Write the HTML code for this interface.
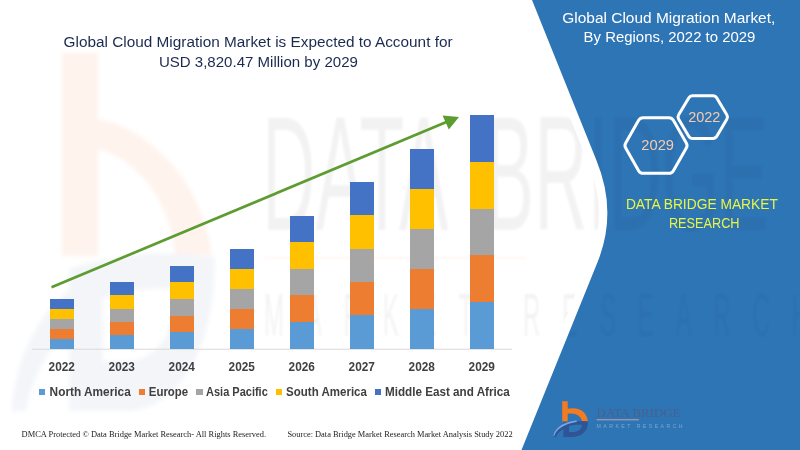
<!DOCTYPE html>
<html>
<head>
<meta charset="utf-8">
<title>Global Cloud Migration Market</title>
<style>
html,body{margin:0;padding:0;background:#fff;}
body{width:800px;height:450px;overflow:hidden;position:relative;font-family:"Liberation Sans",sans-serif;}
svg{position:absolute;left:0;top:0;display:block;}
text{font-family:"Liberation Sans",sans-serif;}
.serif{font-family:"Liberation Serif",serif;}
</style>
</head>
<body>
<svg width="800" height="450" viewBox="0 0 800 450">
  <defs>
    <g id="logo">
      <path d="M0,0 H5.5 V7.6 C16.5,5 25,10.4 25.6,20 H19.8 C18.8,14.4 12.6,11.2 5.5,12.6 V20 H0 Z" fill="#F47B20"/>
      <path d="M1.2,21.6 C10,19.8 20,19.8 25.9,20.4 C26,29.4 20,36 10,35.8 H1.2 Z M6.9,24.6 V30.8 H11.4 C16,30.6 19.2,28 19.8,23.6 C15,23.4 10,23.8 6.9,24.6 Z" fill="#2F5597" fill-rule="evenodd"/>
      <path d="M-8.5,35.8 C-7,28 2,22.6 14,20.6 L25.8,20.4 C16,21.4 10,23.4 6.9,24.9 C0,28 -4.5,31.4 -6.2,35.8 Z" fill="#2F5597"/>
      <path d="M-8.7,34.6 C-7.6,26.4 2,20.6 14,19.3 L15,20.5 C3,22.4 -6.5,28 -8,35 Z" fill="#7AA7E0"/>
    </g>
    <filter id="wb2" x="-10%" y="-10%" width="120%" height="120%"><feGaussianBlur stdDeviation="2"/></filter>
    <clipPath id="pc"><path d="M532,0 L596.3,160 Q617.8,212 597.6,262 L521.5,450 H800 V0 Z"/></clipPath>
    <filter id="tb" x="-5%" y="-5%" width="110%" height="110%"><feGaussianBlur stdDeviation="1.2"/></filter>
  </defs>

  <rect width="800" height="450" fill="#ffffff"/>

  <!-- faint watermark (logo) -->
  <g opacity="0.08" filter="url(#wb2)">
    <path d="M62,53 H98 V120 C130,122 200,165 212,255 H175 C172,205 140,160 98,149 V256 H62 Z" fill="#F56923"/>
    <g transform="translate(62,53) scale(5.9,10)" opacity="0.7">
      <path d="M1.2,21.6 C10,19.8 20,19.8 25.9,20.4 C26,29.4 20,36 10,35.8 H1.2 Z M6.9,24.6 V30.8 H11.4 C16,30.6 19.2,28 19.8,23.6 C15,23.4 10,23.8 6.9,24.6 Z" fill="#2F5597" fill-rule="evenodd"/>
      <path d="M-8.5,35.8 C-7.5,27 2,21.5 14,20 L25.8,20.4 C16,21 10,23 6.9,24.5 C0,27.5 -4.5,31 -6.2,35.8 Z" fill="#2F5597"/>
    </g>
  </g>

  <!-- faint watermark (text) -->
  <g opacity="0.046" filter="url(#tb)">
    <text transform="translate(262,230) scale(1,2.22)" x="0" y="0" font-size="74" fill="#000" word-spacing="20">DATA BRIDGE</text>
    <rect x="264" y="256.5" width="262" height="3" fill="#F47B20"/>
    <text transform="translate(264,336) scale(1,2.57)" x="0" y="0" font-size="24" fill="#000" textLength="545" lengthAdjust="spacing">MARKET RESEARCH</text>
  </g>

  <!-- blue panel -->
  <path d="M532,0 L596.3,160 Q617.8,212 597.6,262 L521.5,450 H800 V0 Z" fill="#ffffff" stroke="#ffffff" stroke-width="17" stroke-linejoin="round"/>
  <path d="M532,0 L596.3,160 Q617.8,212 597.6,262 L521.5,450 H800 V0 Z" fill="#2E75B6"/>
  <g opacity="0.035" filter="url(#tb)" clip-path="url(#pc)">
    <text transform="translate(262,230) scale(1,2.22)" x="0" y="0" font-size="74" fill="#000" word-spacing="20">DATA BRIDGE</text>
    <text transform="translate(264,336) scale(1,2.57)" x="0" y="0" font-size="24" fill="#000" textLength="545" lengthAdjust="spacing">MARKET RESEARCH</text>
  </g>


  <!-- axis line -->
  <rect x="32" y="348.7" width="480" height="1" fill="#D9D9D9"/>

  <!-- bars -->
  <g shape-rendering="crispEdges">
    <rect x="49.9" y="299.30" width="23.8" height="10.10" fill="#4472C4"/>
    <rect x="49.9" y="309.20" width="23.8" height="10.10" fill="#FFC000"/>
    <rect x="49.9" y="319.10" width="23.8" height="10.10" fill="#A5A5A5"/>
    <rect x="49.9" y="329.00" width="23.8" height="10.10" fill="#ED7D31"/>
    <rect x="49.9" y="338.90" width="23.8" height="9.90" fill="#5B9BD5"/>
    <rect x="109.9" y="282.10" width="23.8" height="13.54" fill="#4472C4"/>
    <rect x="109.9" y="295.44" width="23.8" height="13.54" fill="#FFC000"/>
    <rect x="109.9" y="308.78" width="23.8" height="13.54" fill="#A5A5A5"/>
    <rect x="109.9" y="322.12" width="23.8" height="13.54" fill="#ED7D31"/>
    <rect x="109.9" y="335.46" width="23.8" height="13.34" fill="#5B9BD5"/>
    <rect x="169.9" y="265.60" width="23.8" height="16.84" fill="#4472C4"/>
    <rect x="169.9" y="282.24" width="23.8" height="16.84" fill="#FFC000"/>
    <rect x="169.9" y="298.88" width="23.8" height="16.84" fill="#A5A5A5"/>
    <rect x="169.9" y="315.52" width="23.8" height="16.84" fill="#ED7D31"/>
    <rect x="169.9" y="332.16" width="23.8" height="16.64" fill="#5B9BD5"/>
    <rect x="229.9" y="248.90" width="23.8" height="20.18" fill="#4472C4"/>
    <rect x="229.9" y="268.88" width="23.8" height="20.18" fill="#FFC000"/>
    <rect x="229.9" y="288.86" width="23.8" height="20.18" fill="#A5A5A5"/>
    <rect x="229.9" y="308.84" width="23.8" height="20.18" fill="#ED7D31"/>
    <rect x="229.9" y="328.82" width="23.8" height="19.98" fill="#5B9BD5"/>
    <rect x="289.9" y="215.50" width="23.8" height="26.86" fill="#4472C4"/>
    <rect x="289.9" y="242.16" width="23.8" height="26.86" fill="#FFC000"/>
    <rect x="289.9" y="268.82" width="23.8" height="26.86" fill="#A5A5A5"/>
    <rect x="289.9" y="295.48" width="23.8" height="26.86" fill="#ED7D31"/>
    <rect x="289.9" y="322.14" width="23.8" height="26.66" fill="#5B9BD5"/>
    <rect x="349.9" y="182.00" width="23.8" height="33.56" fill="#4472C4"/>
    <rect x="349.9" y="215.36" width="23.8" height="33.56" fill="#FFC000"/>
    <rect x="349.9" y="248.72" width="23.8" height="33.56" fill="#A5A5A5"/>
    <rect x="349.9" y="282.08" width="23.8" height="33.56" fill="#ED7D31"/>
    <rect x="349.9" y="315.44" width="23.8" height="33.36" fill="#5B9BD5"/>
    <rect x="409.9" y="149.00" width="23.8" height="40.16" fill="#4472C4"/>
    <rect x="409.9" y="188.96" width="23.8" height="40.16" fill="#FFC000"/>
    <rect x="409.9" y="228.92" width="23.8" height="40.16" fill="#A5A5A5"/>
    <rect x="409.9" y="268.88" width="23.8" height="40.16" fill="#ED7D31"/>
    <rect x="409.9" y="308.84" width="23.8" height="39.96" fill="#5B9BD5"/>
    <rect x="469.9" y="115.00" width="23.8" height="46.96" fill="#4472C4"/>
    <rect x="469.9" y="161.76" width="23.8" height="46.96" fill="#FFC000"/>
    <rect x="469.9" y="208.52" width="23.8" height="46.96" fill="#A5A5A5"/>
    <rect x="469.9" y="255.28" width="23.8" height="46.96" fill="#ED7D31"/>
    <rect x="469.9" y="302.04" width="23.8" height="46.76" fill="#5B9BD5"/>
  </g>

  <!-- arrow -->
  <line x1="51.5" y1="287.3" x2="447" y2="121.8" stroke="#5C9C30" stroke-width="2.7"/>
  <polygon points="459,117 442.6,115.4 448.8,129.6" fill="#5C9C30"/>

  <!-- title -->
  <g fill="#1B2A50" font-size="15.3">
    <text x="63.6" y="46.8" textLength="389" lengthAdjust="spacingAndGlyphs">Global Cloud Migration Market is Expected to Account for</text>
    <text x="158.9" y="67" textLength="199" lengthAdjust="spacingAndGlyphs">USD 3,820.47 Million by 2029</text>
  </g>

  <!-- panel title -->
  <g fill="#ffffff" font-size="15.2">
    <text x="562.3" y="23.4" textLength="213" lengthAdjust="spacingAndGlyphs">Global Cloud Migration Market,</text>
    <text x="583.6" y="42.2" textLength="171.8" lengthAdjust="spacingAndGlyphs">By Regions, 2022 to 2029</text>
  </g>

  <!-- hexagons -->
  <g fill="none" stroke="#ffffff" stroke-width="3" stroke-linejoin="round">
    <path d="M625.69,148.10 Q624.20,145.50 625.69,142.90 L638.61,120.30 Q640.10,117.70 643.10,117.70 L668.90,117.70 Q671.90,117.70 673.39,120.30 L686.31,142.90 Q687.80,145.50 686.31,148.10 L673.39,170.70 Q671.90,173.30 668.90,173.30 L643.10,173.30 Q640.10,173.30 638.61,170.70 Z"/>
    <path d="M678.68,119.28 Q677.35,117.05 678.68,114.82 L688.72,97.93 Q690.05,95.70 692.65,95.70 L712.85,95.70 Q715.45,95.70 716.78,97.93 L726.82,114.82 Q728.15,117.05 726.82,119.28 L716.78,136.17 Q715.45,138.40 712.85,138.40 L692.65,138.40 Q690.05,138.40 688.72,136.17 Z"/>
  </g>
  <g fill="#F8CBAD" font-size="15.4">
    <text x="641.3" y="150.4" textLength="32.7" lengthAdjust="spacingAndGlyphs">2029</text>
    <text x="688.2" y="122.1" textLength="32.2" lengthAdjust="spacingAndGlyphs">2022</text>
  </g>

  <!-- yellow label -->
  <g fill="#E8F646" font-size="15.1">
    <text x="625.9" y="209.4" textLength="152" lengthAdjust="spacingAndGlyphs">DATA BRIDGE MARKET</text>
    <text x="668.9" y="228.4" textLength="70.6" lengthAdjust="spacingAndGlyphs">RESEARCH</text>
  </g>

  <!-- year labels -->
  <g fill="#404040" font-size="12.6" font-weight="bold">
    <text x="48.6" y="371.2" textLength="26.3" lengthAdjust="spacingAndGlyphs">2022</text>
    <text x="108.6" y="371.2" textLength="26.3" lengthAdjust="spacingAndGlyphs">2023</text>
    <text x="168.6" y="371.2" textLength="26.3" lengthAdjust="spacingAndGlyphs">2024</text>
    <text x="228.6" y="371.2" textLength="26.3" lengthAdjust="spacingAndGlyphs">2025</text>
    <text x="288.6" y="371.2" textLength="26.3" lengthAdjust="spacingAndGlyphs">2026</text>
    <text x="348.6" y="371.2" textLength="26.3" lengthAdjust="spacingAndGlyphs">2027</text>
    <text x="408.6" y="371.2" textLength="26.3" lengthAdjust="spacingAndGlyphs">2028</text>
    <text x="468.6" y="371.2" textLength="26.3" lengthAdjust="spacingAndGlyphs">2029</text>
  </g>

  <!-- legend -->
  <g shape-rendering="crispEdges">
    <rect x="39" y="389" width="6.4" height="6.4" fill="#5B9BD5"/>
    <rect x="138.8" y="389" width="6.4" height="6.4" fill="#ED7D31"/>
    <rect x="196.3" y="389" width="6.4" height="6.4" fill="#A5A5A5"/>
    <rect x="276" y="389" width="6.4" height="6.4" fill="#FFC000"/>
    <rect x="374.6" y="389" width="6.4" height="6.4" fill="#4472C4"/>
  </g>
  <g fill="#404040" font-size="12.2" font-weight="bold">
    <text x="49.6" y="396.3" textLength="81.2" lengthAdjust="spacingAndGlyphs">North America</text>
    <text x="148.8" y="396.3" textLength="39.4" lengthAdjust="spacingAndGlyphs">Europe</text>
    <text x="206" y="396.3" textLength="61.8" lengthAdjust="spacingAndGlyphs">Asia Pacific</text>
    <text x="286.1" y="396.3" textLength="80.8" lengthAdjust="spacingAndGlyphs">South America</text>
    <text x="385" y="396.3" textLength="124.8" lengthAdjust="spacingAndGlyphs">Middle East and Africa</text>
  </g>

  <!-- footer -->
  <g fill="#1a1a1a" font-size="9">
    <text class="serif" x="21.6" y="436.9" textLength="244.5" lengthAdjust="spacingAndGlyphs">DMCA Protected © Data Bridge Market Research- All Rights Reserved.</text>
    <text class="serif" x="287.4" y="436.9" textLength="225.2" lengthAdjust="spacingAndGlyphs">Source: Data Bridge Market Research Market Analysis Study 2022</text>
  </g>

  <!-- small logo -->
  <use href="#logo" x="562.2" y="401.2"/>
  <g>
    <text x="596.6" y="417.1" font-size="13" fill="#4B5F8A" textLength="83.8" lengthAdjust="spacingAndGlyphs" class="serif">DATA BRIDGE</text>
    <rect x="596.6" y="419.3" width="42.2" height="1" fill="#C9A2A6"/>
    <text x="596.6" y="427.9" font-size="5.2" fill="#7FA3D0" textLength="86" lengthAdjust="spacing">MARKET RESEARCH</text>
  </g>
</svg>
</body>
</html>
